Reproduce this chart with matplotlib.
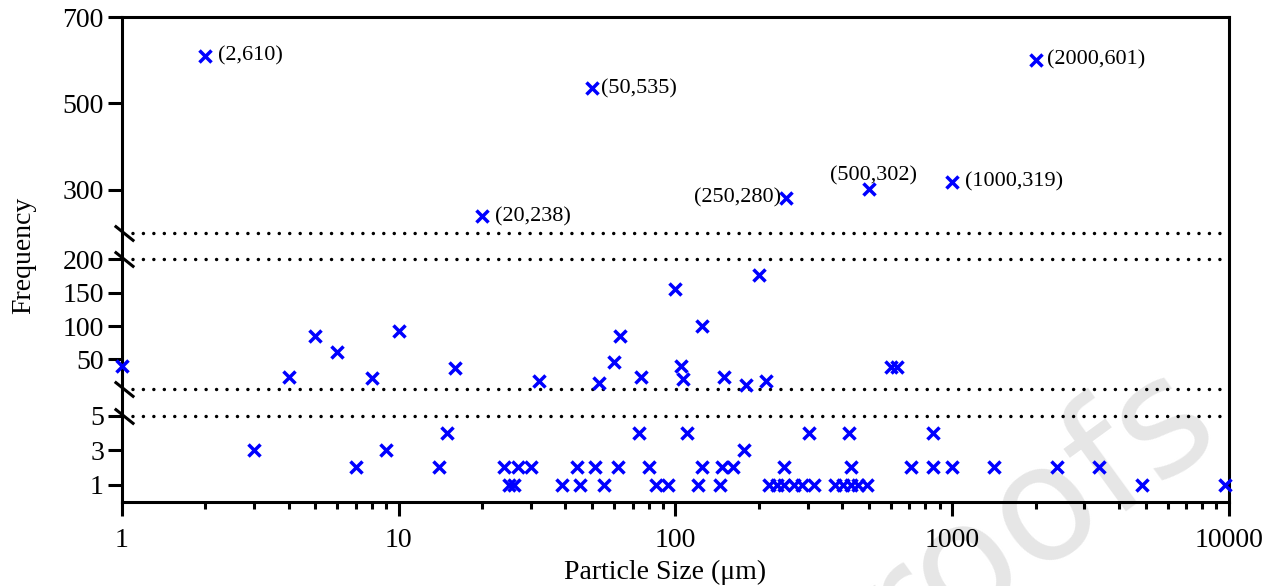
import numpy as np
import matplotlib
matplotlib.use('Agg')
import matplotlib.pyplot as plt
from matplotlib.ticker import LogLocator, FuncFormatter, NullLocator, NullFormatter

plt.rcParams['font.family'] = ['Liberation Serif', 'DejaVu Serif']

# ---------------- data ----------------
# upper segment (labelled points)
upper_x = [2, 20, 50, 250, 500, 1000, 2000]
upper_y = [610, 238, 535, 280, 302, 319, 601]

# middle segment
mid_x = [1, 4, 5, 6, 8, 10, 16, 32, 53, 60, 63, 75, 100, 105, 106, 125, 150,
         180, 200, 212, 600, 630]
mid_y = [40, 23, 85, 61, 22, 93, 37, 18, 14, 46, 85, 24, 156, 40, 20, 100, 24,
         12, 176, 17, 39, 39]

# lower segment
low_x = [3, 7, 9, 14, 15, 24, 25, 26, 27, 30, 39, 44, 45, 51, 55, 62, 74, 80,
         85, 94, 110, 121, 125, 145, 147, 162, 177, 218, 232, 247, 247, 267,
         286, 304, 317, 378, 402, 425, 430, 430, 458, 493, 710, 850, 850, 1000,
         1416, 2400, 3400, 4840, 9700]
low_y = [3, 2, 3, 2, 4, 2, 1, 1, 2, 2, 1, 2, 1, 2, 1, 2, 4, 2,
         1, 1, 4, 1, 2, 1, 2, 2, 3, 1, 1, 2, 1, 1,
         1, 4, 1, 1, 1, 4, 2, 1, 1, 1, 2, 2, 4, 2,
         2, 2, 2, 1, 1]

y_ticks = [1, 3, 5, 50, 100, 150, 200, 300, 500, 700]
x_ticks = [1, 10, 100, 1000, 10000]

# ---------------- broken y scale ----------------
EPS = 1e-3
seg_vals = np.array([-100.0, 0, 5, 5 + EPS, 200, 200 + EPS, 700, 1700])
seg_pos = -np.array([501.5 + 1715, 501.5, 415.7, 389.3, 259.3, 232.7, 17.3, 17.3 - 431])


def fwd(y):
    return np.interp(y, seg_vals, seg_pos)


def inv(v):
    return np.interp(v, seg_pos, seg_vals)


W, H = 1279, 586
fig = plt.figure(figsize=(W / 100, H / 100), dpi=100)
ax = fig.add_axes([122 / W, 1 - 501.7 / H, (1229 - 122) / W, (501.7 - 17.3) / H])

# watermark (behind everything)
fig.text(1222 / W, 1 - 430 / H, 'Proofs', fontsize=115, color='#e6e6e6',
         family='DejaVu Sans', rotation=36, rotation_mode='anchor',
         ha='right', va='baseline', zorder=-5)
ax.set_facecolor('none')

ax.set_xscale('log')
ax.set_yscale('function', functions=(fwd, inv))
ax.set_xlim(1, 10000)
ax.set_ylim(0, 700)

mk = dict(marker='x', s=75, linewidths=2.5, color='#0000ff', clip_on=False, zorder=5)
ax.scatter(upper_x, upper_y, **mk)
ax.scatter(mid_x, mid_y, **mk)
ax.scatter(low_x, low_y, **mk)

# break lines
for v in [5, 5 + EPS, 200, 200 + EPS]:
    ax.axhline(v, color='black', lw=2.5, ls=(0, (0.01, 3.0)),
               dash_capstyle='round', zorder=2)
ax.plot([1.02] * 4, [5, 5 + EPS, 200, 200 + EPS], ls='none',
        marker=[(-1, 0.8), (1, -0.8)], ms=14, mew=2.2, color='black',
        clip_on=False, zorder=6)

# annotations
offsets = {2: (9.4, 0, 'left'), 20: (9.4, 0, 'left'), 50: (6.5, 0, 'left'),
           250: (-3.6, 0, 'right'), 500: (3, 9.5, 'center'),
           1000: (9, 0, 'left'), 2000: (8, 0, 'left')}
for x, y in zip(upper_x, upper_y):
    dx, dy, ha = offsets[x]
    ax.annotate(f'({x},{y})', (x, y), xytext=(dx, dy), textcoords='offset points',
                ha=ha, va='center', fontsize=16, zorder=7)

# axes styling
for s in ax.spines.values():
    s.set_linewidth(2.2)
ax.set_yticks(y_ticks)
ax.set_yticklabels([str(t) for t in y_ticks])
ax.yaxis.set_minor_locator(NullLocator())
ax.set_xticks(x_ticks)
ax.xaxis.set_major_formatter(FuncFormatter(lambda v, p: f'{v:g}' if v < 1e4 else '10000'))
ax.xaxis.set_minor_locator(LogLocator(base=10, subs=np.arange(2, 10)))
ax.xaxis.set_minor_formatter(NullFormatter())
ax.tick_params(axis='both', which='major', labelsize=20, width=2.2, length=10,
               direction='out', color='black')
ax.tick_params(axis='x', which='major', pad=9)
ax.tick_params(axis='y', which='major', pad=3)
ax.tick_params(axis='x', which='minor', width=2.2, length=5, direction='out')

ax.set_xlabel('Particle Size (\u03bcm)', fontsize=20)
ax.set_ylabel('Frequency', fontsize=20)
ax.xaxis.set_label_coords(0.4905, -0.12)
ax.yaxis.set_label_coords(-0.0777, 0.508)

fig.savefig('out.png', dpi=100)
